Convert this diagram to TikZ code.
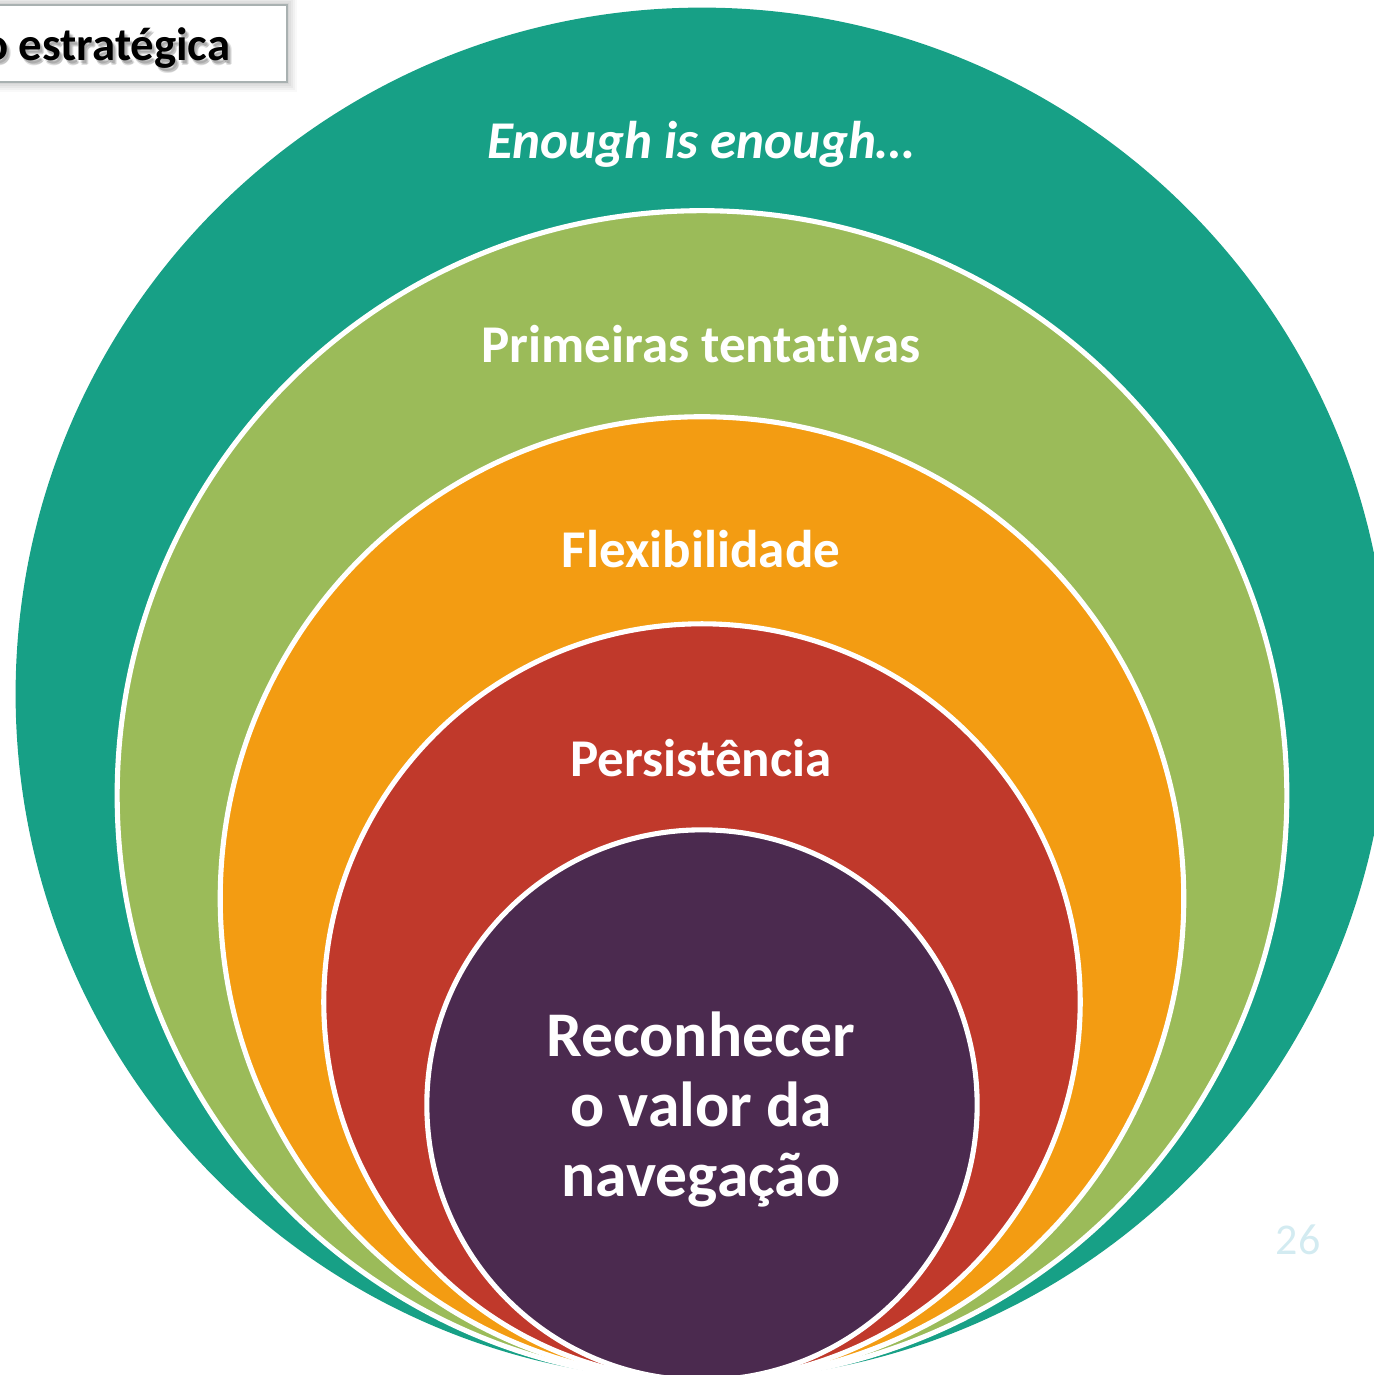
\documentclass[tikz,border=0pt]{standalone}
\usepackage{fontspec}
\setmainfont[Ligatures={NoCommon}]{Carlito}
\definecolor{cteal}{HTML}{17A086}
\definecolor{cgreen}{HTML}{9BBB59}
\definecolor{corange}{HTML}{F39C12}
\definecolor{cred}{HTML}{C0392B}
\definecolor{cpurple}{HTML}{4B2A4F}
\definecolor{cnum}{HTML}{D3EBF1}
\definecolor{cboxline}{HTML}{A9B1B1}
\begin{document}
\begin{tikzpicture}[x=0.01cm,y=-0.01cm,
  ring/.style={draw=white, line width=1.45pt},
  lbl/.style={text=white, anchor=base, inner sep=0pt, font=\bfseries\fontsize{15.1}{18}\selectfont}]
\useasboundingbox (0,0) rectangle (1374,1375);
\clip (0,0) rectangle (1374,1375);
% nested circles, tangent at the bottom
\fill[cteal] (702,694) circle (6.86cm);
\filldraw[ring, fill=cgreen] (702,795.5) circle (5.845cm);
\filldraw[ring, fill=corange] (702,898.5) circle (4.815cm);
\filldraw[ring, fill=cred] (702,1002) circle (3.78cm);
\filldraw[ring, fill=cpurple] (702,1105) circle (2.75cm);
% labels
\node[lbl, font=\bfseries\itshape\fontsize{15.1}{18}\selectfont] (enough) at (701,158) {Enough is enough…};
\node[lbl] (prim) at (701,362) {Primeiras tentativas};
\node[lbl] (flex) at (701,567) {Flexibilidade};
\node[lbl] (pers) at (701,776) {Persistência};
\node[text=white, align=center, inner sep=0pt, font=\bfseries\fontsize{18.1}{19.9}\selectfont] (core) at (701,1110) {Reconhecer\\o valor da\\navegação};
% page number
\node[text=cnum, anchor=base, inner sep=0pt, font=\fontsize{12.5}{15}\selectfont] (pnum) at (1298,1254) {26};
% title box with soft shadow
\foreach \d/\o in {10/0.025,8/0.03,6/0.035,4/0.04,2/0.045}{
  \fill[black, opacity=\o] (-20,5-\d) rectangle (287+\d,82+\d);
}
\filldraw[fill=white, draw=cboxline, line width=0.4pt] (-20,5) rectangle (287,82);
\foreach \dx/\dy in {2/3,4/4,3/5}{
  \node[text=black, opacity=0.12, anchor=base east, inner sep=0pt, font=\bfseries\fontsize{13.3}{16}\selectfont] at (231+\dx,60+\dy) {o estratégica};
}
\node[text=black, anchor=base east, inner sep=0pt, font=\bfseries\fontsize{13.3}{16}\selectfont] (title) at (231,60) {o estratégica};
\end{tikzpicture}
\end{document}
